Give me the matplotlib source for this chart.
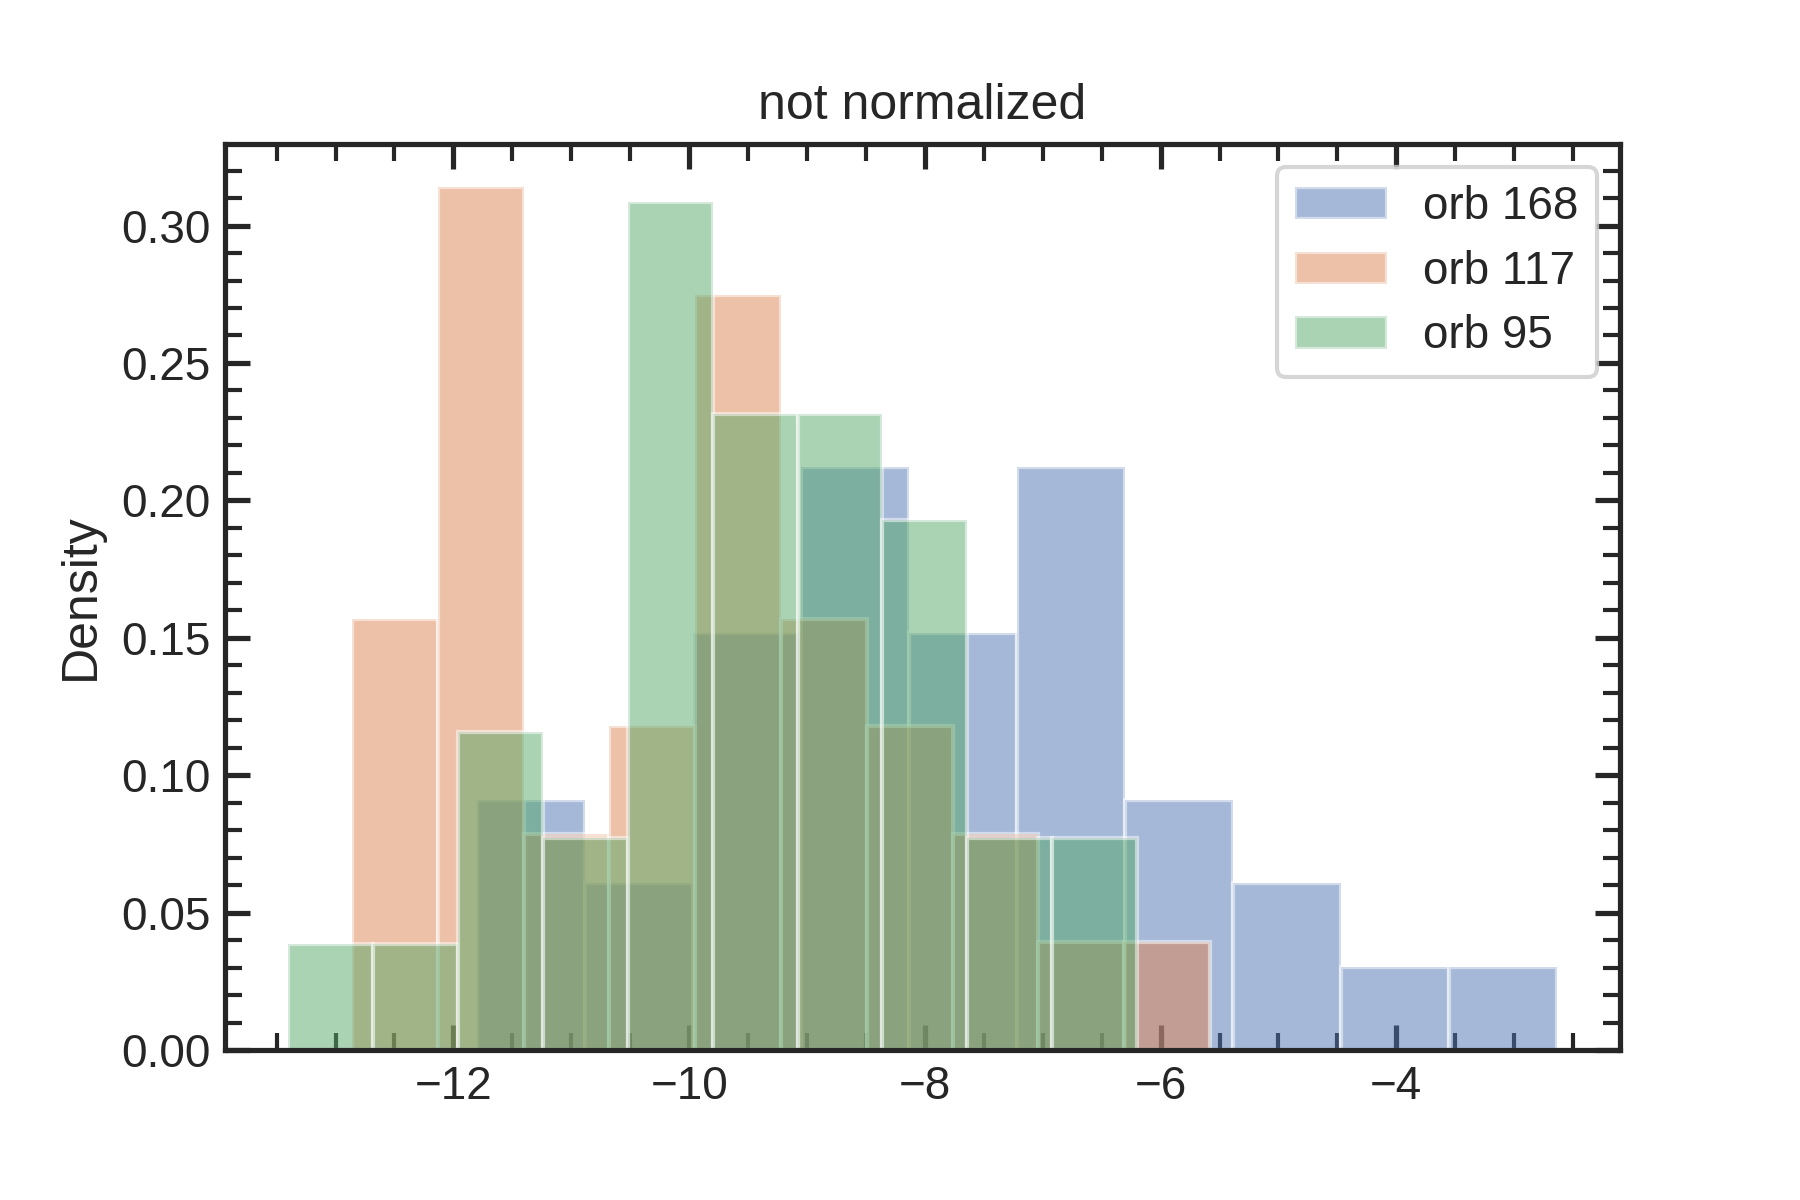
import matplotlib
matplotlib.use("Agg")
import matplotlib.pyplot as plt
from matplotlib.ticker import AutoMinorLocator
import numpy as np
import seaborn as sns

# histogram counts (10 bins each, density normalised)
labels = ["orb 168", "orb 117", "orb 95"]
ranges = [(-11.80, -2.64), (-12.86, -5.58), (-13.40, -6.20)]
counts_168 = [3, 2, 5, 7, 5, 7, 3, 2, 1, 1]
counts_117 = [4, 8, 2, 3, 7, 4, 3, 2, 1, 1]
counts_95 = [1, 1, 3, 2, 8, 6, 6, 5, 2, 2]
all_counts = [counts_168, counts_117, counts_95]

sns.set_theme(style="ticks", context="notebook")
plt.rcParams["font.family"] = ["Liberation Sans", "DejaVu Sans"]
plt.rcParams["xtick.direction"] = "in"
plt.rcParams["ytick.direction"] = "in"
plt.rcParams["xtick.top"] = True
plt.rcParams["ytick.right"] = True

palette = sns.color_palette("deep")

fig = plt.figure(figsize=(6, 4), dpi=300)
ax = fig.add_axes([0.125, 0.125, 0.775, 0.755])

for i, (lab, rng, cnt) in enumerate(zip(labels, ranges, all_counts)):
    edges = np.histogram_bin_edges([], bins=len(cnt), range=rng)
    centers = 0.5 * (edges[:-1] + edges[1:])
    ax.hist(centers, bins=edges, weights=cnt, density=True, alpha=0.5,
            color=palette[i], edgecolor="white", linewidth=1, label=lab)

ax.set_title("not normalized", fontsize=12)
ax.set_ylabel("Density", fontsize=12)
ax.xaxis.set_minor_locator(AutoMinorLocator())
ax.yaxis.set_minor_locator(AutoMinorLocator())
ax.tick_params(which="both", direction="in", top=True, right=True)
ax.tick_params(which="major", length=6, width=1.25)
ax.tick_params(which="minor", length=4, width=1)
for s in ax.spines.values():
    s.set_linewidth(1.25)
ax.legend(loc="upper right", fontsize=11, labelspacing=0.45)

fig.savefig("out.png", dpi=300)
